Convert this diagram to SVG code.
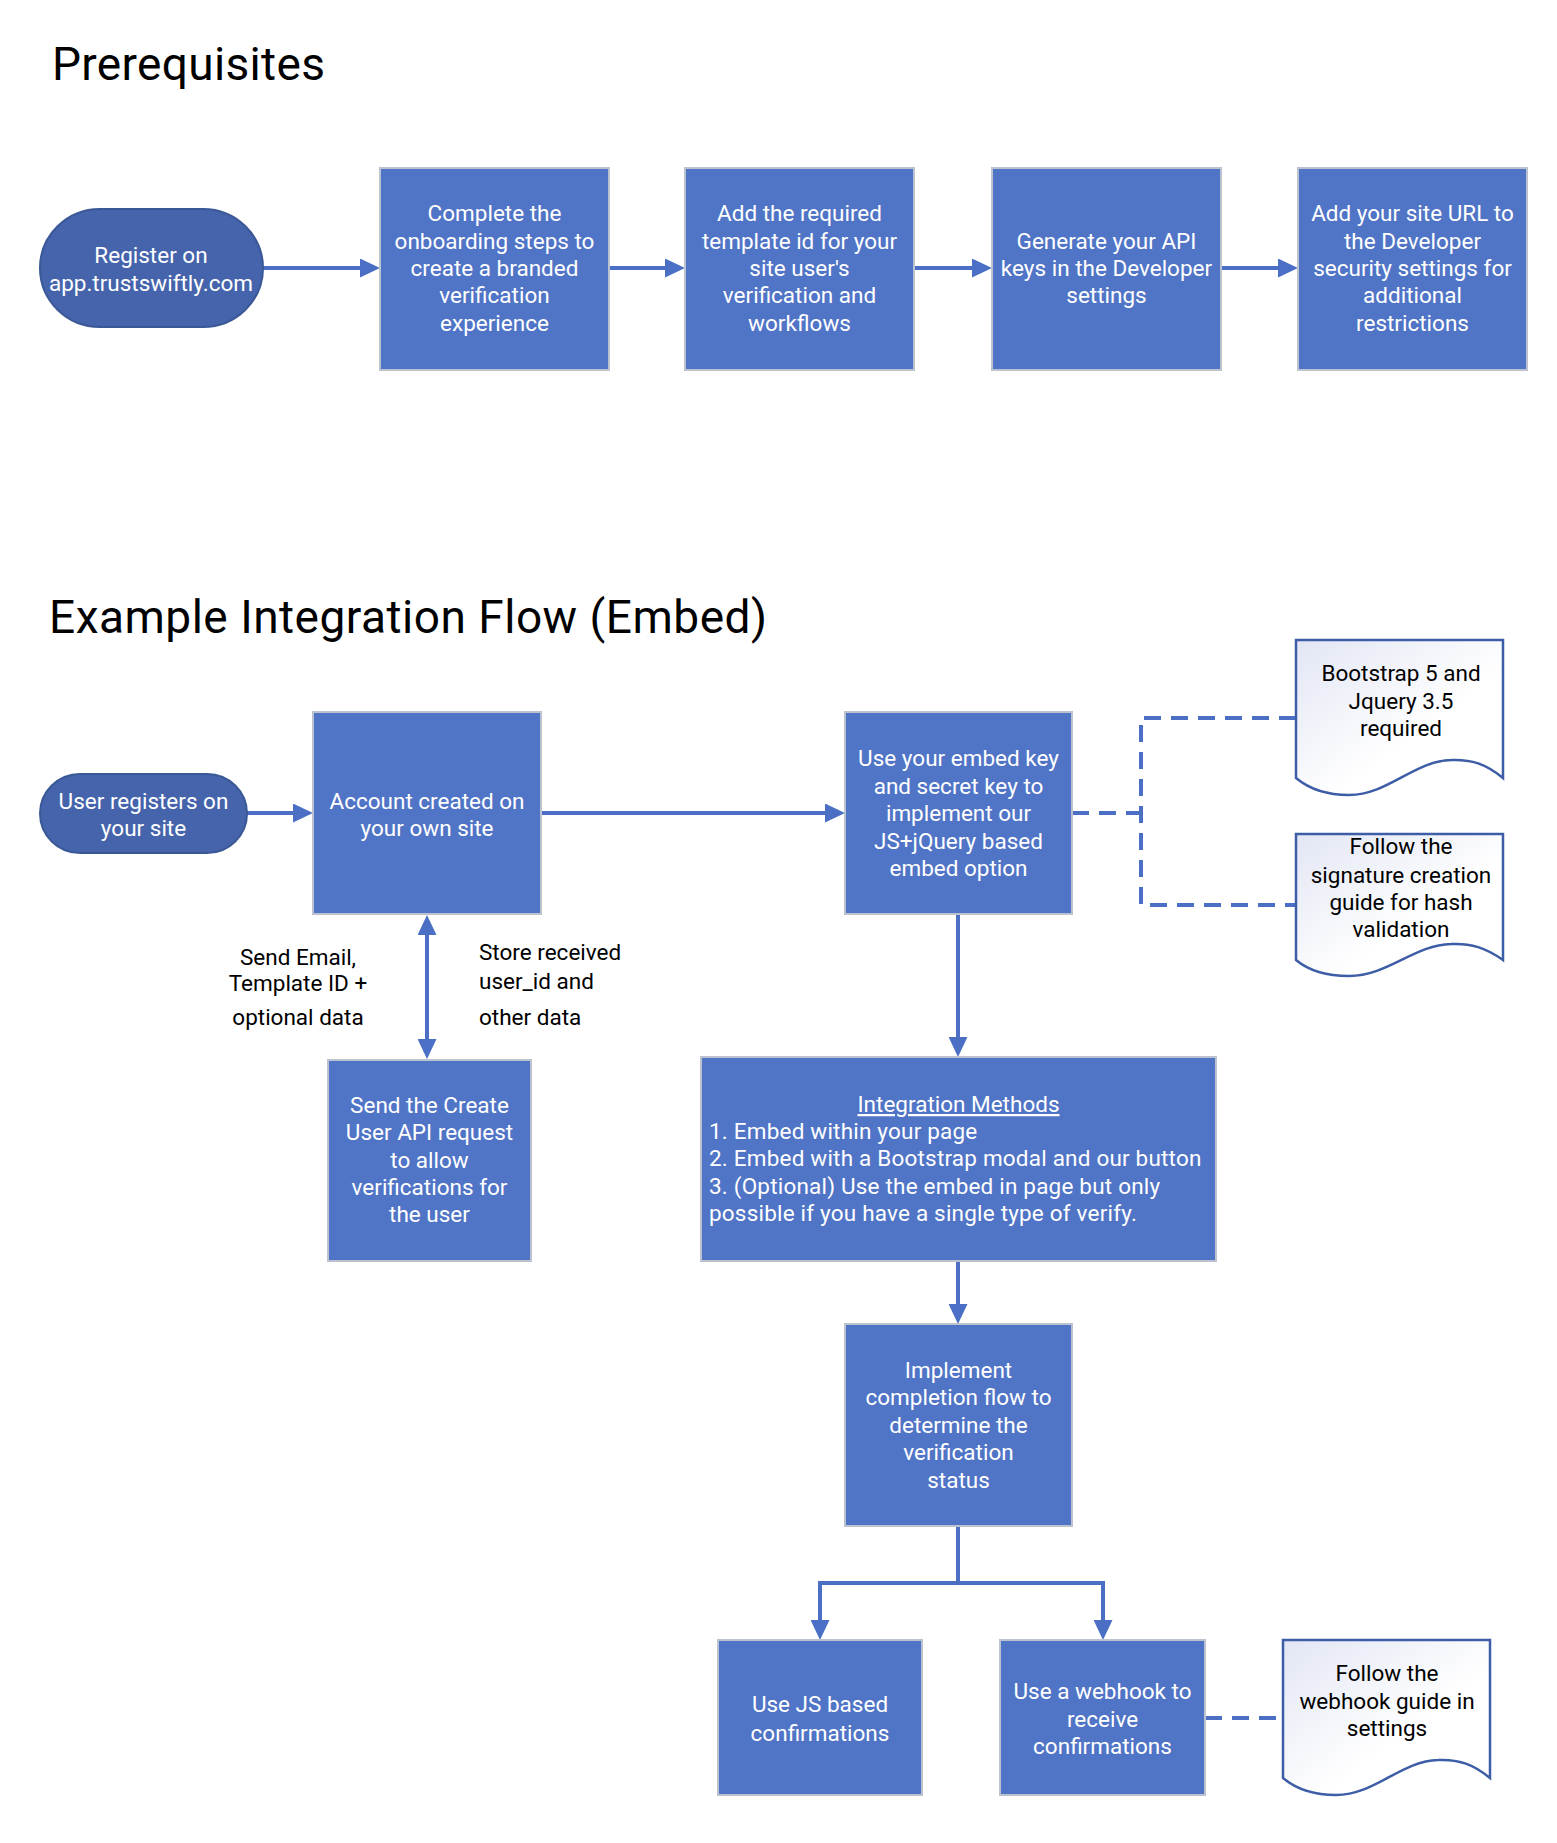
<svg xmlns="http://www.w3.org/2000/svg" width="1557" height="1843" viewBox="0 0 1557 1843">
<style>
text{font-family:Roboto,"Liberation Sans",sans-serif;font-size:22.5px}
.title{font-size:46px;fill:#000}
.w{fill:#fff;text-anchor:middle}
.k{fill:#000}
.c{text-anchor:middle}
.m{fill:#fff;letter-spacing:0.2px}
.box{fill:#5074C6;stroke:#BCC3CE;stroke-width:2}
.term{fill:#4564AC;stroke:#3A5896;stroke-width:2}
.doc{fill:url(#dg);stroke:#3D5DA6;stroke-width:2.5}
.ln{fill:none;stroke:#4A6FC4;stroke-width:4}
.dash{fill:none;stroke:#4A6FC4;stroke-width:4;stroke-dasharray:17 10}
</style>
<defs>
<linearGradient id="dg" x1="0" y1="0" x2="1" y2="1">
<stop offset="0" stop-color="#E2E6F4"/>
<stop offset="0.6" stop-color="#FFFFFF"/>
</linearGradient>
<marker id="ah" markerUnits="userSpaceOnUse" markerWidth="20" markerHeight="19" refX="10" refY="9.5" orient="auto-start-reverse">
<path d="M0,0 L20,9.5 L0,19 Z" fill="#4A6FC4"/>
</marker>
</defs>
<rect width="1557" height="1843" fill="#fff"/>
<text class="title" x="52" y="80" textLength="273">Prerequisites</text>
<text class="title" x="49" y="633" textLength="718">Example Integration Flow (Embed)</text>

<g id="connectors">
<path class="ln" d="M263,268 H370" marker-end="url(#ah)"/>
<path class="ln" d="M609,268 H675" marker-end="url(#ah)"/>
<path class="ln" d="M914,268 H982" marker-end="url(#ah)"/>
<path class="ln" d="M1221,268 H1288" marker-end="url(#ah)"/>
<path class="ln" d="M247,813 H303" marker-end="url(#ah)"/>
<path class="ln" d="M541,813 H835" marker-end="url(#ah)"/>
<path class="ln" d="M427,925 V1049" marker-start="url(#ah)" marker-end="url(#ah)"/>
<path class="ln" d="M958,915 V1047" marker-end="url(#ah)"/>
<path class="ln" d="M958,1261 V1314" marker-end="url(#ah)"/>
<path class="ln" d="M958,1526 V1583 H820 V1630" marker-end="url(#ah)"/>
<path class="ln" d="M958,1583 H1103 V1630" marker-end="url(#ah)"/>
<path class="dash" d="M1072,813 H1141"/>
<path class="dash" d="M1296,718 H1141 V905 H1296"/>
<path class="dash" d="M1205,1718 H1283"/>
</g>

<g id="n-register">
<rect class="term" x="40" y="209" width="223" height="118" rx="60" ry="59"/>
<text class="w" x="151" y="263">Register on</text>
<text class="w" x="151" y="291">app.trustswiftly.com</text>
</g>
<g id="n-onboarding">
<rect class="box" x="380" y="168" width="229" height="202"/>
<text class="w" x="494.5" y="221">Complete the</text>
<text class="w" x="494.5" y="249">onboarding steps to</text>
<text class="w" x="494.5" y="276">create a branded</text>
<text class="w" x="494.5" y="303">verification</text>
<text class="w" x="494.5" y="331">experience</text>
</g>
<g id="n-template">
<rect class="box" x="685" y="168" width="229" height="202"/>
<text class="w" x="799.5" y="221">Add the required</text>
<text class="w" x="799.5" y="249">template id for your</text>
<text class="w" x="799.5" y="276">site user's</text>
<text class="w" x="799.5" y="303">verification and</text>
<text class="w" x="799.5" y="331">workflows</text>
</g>
<g id="n-apikeys">
<rect class="box" x="992" y="168" width="229" height="202"/>
<text class="w" x="1106.5" y="249">Generate your API</text>
<text class="w" x="1106.5" y="276">keys in the Developer</text>
<text class="w" x="1106.5" y="303">settings</text>
</g>
<g id="n-siteurl">
<rect class="box" x="1298" y="168" width="229" height="202"/>
<text class="w" x="1412.5" y="221">Add your site URL to</text>
<text class="w" x="1412.5" y="249">the Developer</text>
<text class="w" x="1412.5" y="276">security settings for</text>
<text class="w" x="1412.5" y="303">additional</text>
<text class="w" x="1412.5" y="331">restrictions</text>
</g>

<g id="n-userregisters">
<rect class="term" x="40" y="774" width="207" height="79" rx="40" ry="39.5"/>
<text class="w" x="143.5" y="809">User registers on</text>
<text class="w" x="143.5" y="836">your site</text>
</g>
<g id="n-account">
<rect class="box" x="313" y="712" width="228" height="202"/>
<text class="w" x="427" y="809">Account created on</text>
<text class="w" x="427" y="836">your own site</text>
</g>
<g id="n-embed">
<rect class="box" x="845" y="712" width="227" height="202"/>
<text class="w" x="958.5" y="766">Use your embed key</text>
<text class="w" x="958.5" y="794">and secret key to</text>
<text class="w" x="958.5" y="821">implement our</text>
<text class="w" x="958.5" y="849">JS+jQuery based</text>
<text class="w" x="958.5" y="876">embed option</text>
</g>
<g id="n-bootstrap">
<path class="doc" d="M1296,640 H1503 V778 C1486,764 1471,759 1451,760 C1414,761 1388,795 1349,795 C1326,795 1308,788 1296,778 Z"/>
<text class="k c" x="1401" y="681">Bootstrap 5 and</text>
<text class="k c" x="1401" y="709">Jquery 3.5</text>
<text class="k c" x="1401" y="736">required</text>
</g>
<g id="n-signature">
<path class="doc" d="M1296,834 H1503 V960 C1486,948 1471,943 1451,944 C1414,945 1388,976 1349,976 C1326,976 1308,970 1296,960 Z"/>
<text class="k c" x="1401" y="854">Follow the</text>
<text class="k c" x="1401" y="883">signature creation</text>
<text class="k c" x="1401" y="910">guide for hash</text>
<text class="k c" x="1401" y="937">validation</text>
</g>
<g id="l-send">
<text class="k c" x="298" y="965">Send Email,</text>
<text class="k c" x="298" y="991">Template ID +</text>
<text class="k c" x="298" y="1025">optional data</text>
</g>
<g id="l-store">
<text class="k" x="479" y="960">Store received</text>
<text class="k" x="479" y="989">user_id and</text>
<text class="k" x="479" y="1025">other data</text>
</g>
<g id="n-createuser">
<rect class="box" x="328" y="1060" width="203" height="201"/>
<text class="w" x="429.5" y="1113">Send the Create</text>
<text class="w" x="429.5" y="1140">User API request</text>
<text class="w" x="429.5" y="1168">to allow</text>
<text class="w" x="429.5" y="1195">verifications for</text>
<text class="w" x="429.5" y="1222">the user</text>
</g>
<g id="n-methods">
<rect class="box" x="701" y="1057" width="515" height="204"/>
<text class="w" x="958.5" y="1112" text-decoration="underline">Integration Methods</text>
<text class="m" x="709" y="1139">1. Embed within your page</text>
<text class="m" x="709" y="1166">2. Embed with a Bootstrap modal and our button</text>
<text class="m" x="709" y="1194">3. (Optional) Use the embed in page but only</text>
<text class="m" x="709" y="1221">possible if you have a single type of verify.</text>
</g>
<g id="n-implement">
<rect class="box" x="845" y="1324" width="227" height="202"/>
<text class="w" x="958.5" y="1378">Implement</text>
<text class="w" x="958.5" y="1405">completion flow to</text>
<text class="w" x="958.5" y="1433">determine the</text>
<text class="w" x="958.5" y="1460">verification</text>
<text class="w" x="958.5" y="1488">status</text>
</g>
<g id="n-js">
<rect class="box" x="718" y="1640" width="204" height="155"/>
<text class="w" x="820" y="1712">Use JS based</text>
<text class="w" x="820" y="1741">confirmations</text>
</g>
<g id="n-webhook">
<rect class="box" x="1000" y="1640" width="205" height="155"/>
<text class="w" x="1102.5" y="1699">Use a webhook to</text>
<text class="w" x="1102.5" y="1727">receive</text>
<text class="w" x="1102.5" y="1754">confirmations</text>
</g>
<g id="n-webhookguide">
<path class="doc" d="M1283,1640 H1490 V1778 C1473,1764 1458,1759 1438,1760 C1401,1761 1375,1795 1336,1795 C1313,1795 1295,1788 1283,1778 Z"/>
<text class="k c" x="1387" y="1681">Follow the</text>
<text class="k c" x="1387" y="1709">webhook guide in</text>
<text class="k c" x="1387" y="1736">settings</text>
</g>
</svg>
